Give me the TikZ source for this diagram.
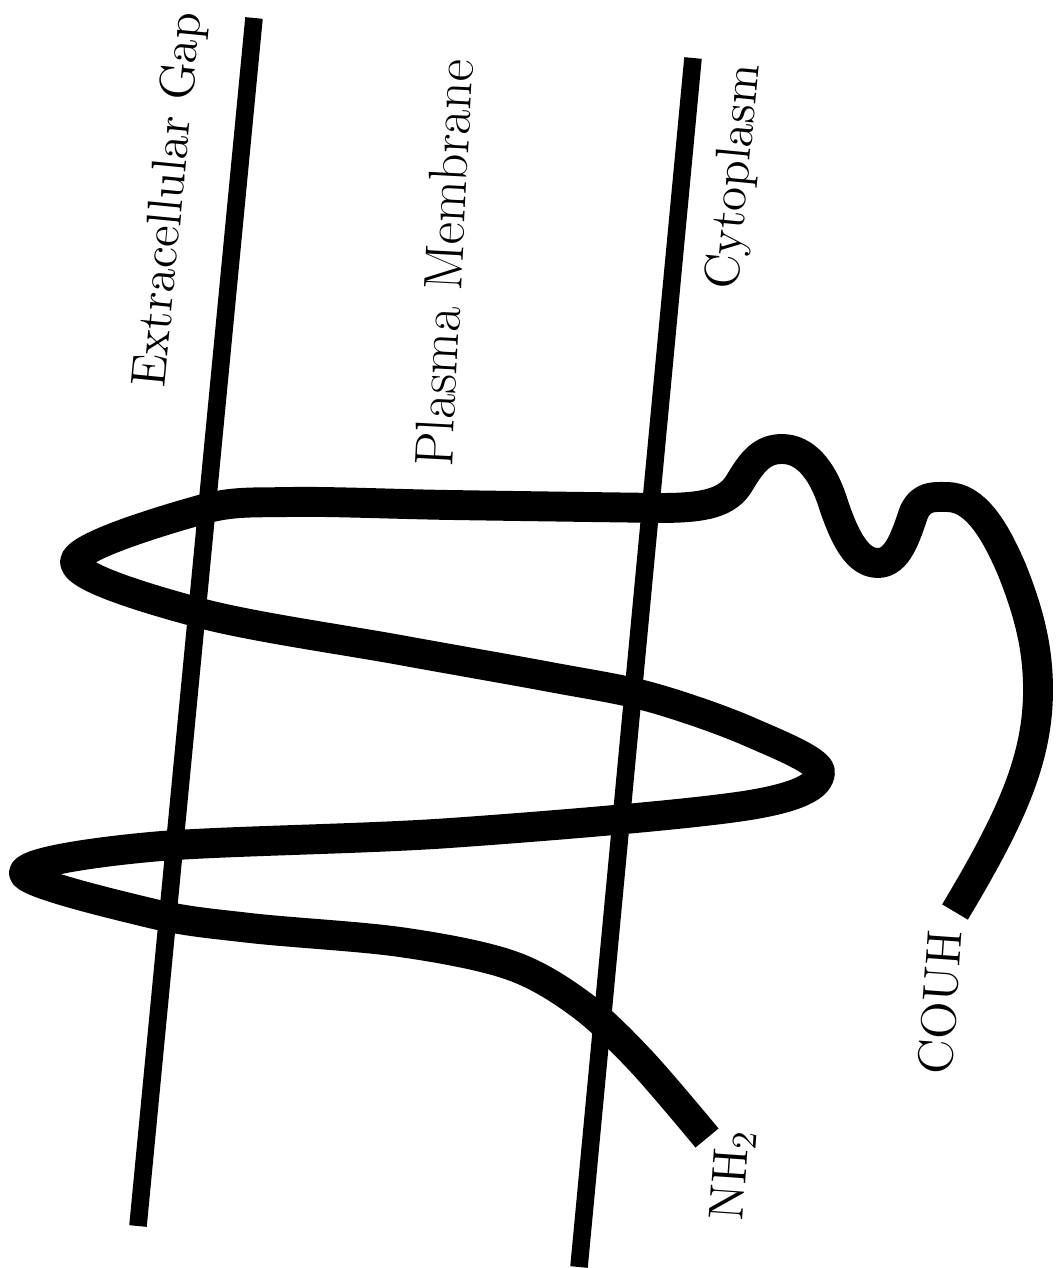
\documentclass[tikz,border=0pt]{standalone}
\usetikzlibrary{positioning}

\begin{document}
\begin{tikzpicture}[
    x=0.01cm, y=-0.01cm,
    membrane/.style={line width=5pt},
    chain/.style={line width=8.5pt, line join=round},
    region/.style={font=\fontsize{14}{16}\selectfont, inner sep=0pt}
]
\useasboundingbox (0,0) rectangle (1063,1268);

% the two faces of the membrane
\coordinate (outTop) at (254,18);
\coordinate (outBot) at (138,1226);
\coordinate (inTop) at (693,58);
\coordinate (inBot) at (579,1267);
\draw[membrane] (outTop) -- (outBot);
\draw[membrane] (inTop) -- (inBot);

% region labels
\node[region, rotate=84.5] (extra) at (170,200) {Extracellular Gap};
\node[region, rotate=87, font=\fontsize{15.5}{17}\selectfont] (plasma) at (444,263) {Plasma Membrane};
\node[region, rotate=84.5] (cyto) at (736,177) {Cytoplasm};

% the protein chain, N end to C end
\coordinate (nterm) at (707,1138);
\coordinate (cterm) at (955,912);
\draw[chain] plot[smooth, tension=0.55] coordinates {
    (707,1138) (640,1060) (580,1004) (510,965) (400,942)
    (250,928) (150,913) (24,873)
    (150,847) (450,833) (750,805) (820,772)
    (750,732) (650,697) (550,677) (400,650) (200,613) (75,562)
    (200,510) (290,502) (450,505) (660,508)}
    .. controls (705,508) and (728,503) .. (740,482)
    .. controls (752,462) and (762,449) .. (782,449)
    .. controls (805,449) and (822,470) .. (832,500)
    .. controls (845,540) and (858,563) .. (878,563)
    .. controls (898,563) and (906,535) .. (914,512)
    .. controls (922,495) and (935,497) .. (947,497)
    .. controls (975,497) and (995,530) .. (1012,570)
    .. controls (1030,615) and (1038,650) .. (1038,690)
    .. controls (1038,760) and (1010,820) .. (cterm);

% chain ends
\node[region, rotate=86] (amino) at (733,1175) {NH$_2$};
\node[region, rotate=86] (carboxyl) at (940,1002) {COUH};
\end{tikzpicture}
\end{document}
